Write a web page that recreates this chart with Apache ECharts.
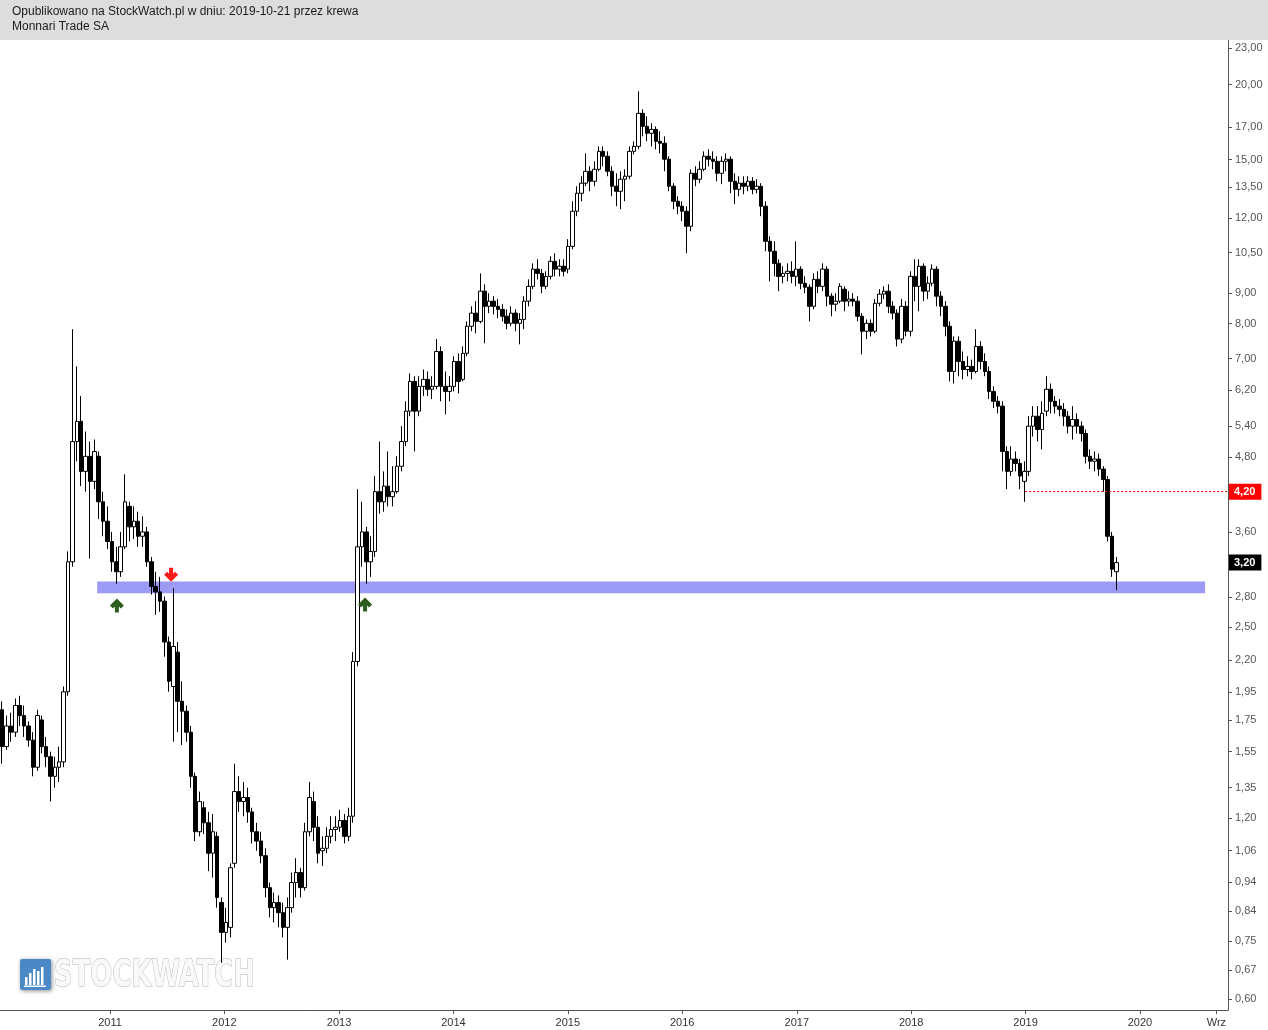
<!DOCTYPE html>
<html><head><meta charset="utf-8">
<script src="https://cdn.jsdelivr.net/npm/echarts@6/dist/echarts.min.js"></script>
<style>html,body{margin:0;padding:0;background:#fff}#c{width:1268px;height:1030px}</style>
</head><body><div id="c"></div>
<script>
// ---- Data (bi-weekly candles, Monnari Trade SA) ----
const startDate = Date.UTC(2010, 0, 22);
const stepDays = 14;
const opens = [1.82,1.58,1.71,1.67,1.85,1.78,1.71,1.62,1.46,1.75,
1.58,1.52,1.41,1.46,1.49,1.95,3.21,5.09,5.50,4.54,
4.81,4.37,4.81,4.04,3.75,3.47,3.21,3.09,3.40,3.97,
3.67,3.75,3.54,3.60,3.21,2.92,2.86,2.76,2.36,1.99,
2.27,1.88,1.81,1.67,1.41,1.14,1.25,1.18,1.05,1.12,
0.869,0.775,0.790,1.01,1.33,1.28,1.30,1.23,1.14,1.10,
1.04,0.920,0.852,0.869,0.836,0.790,0.852,0.938,0.975,0.920,
1.14,1.28,1.16,1.06,1.07,1.12,1.15,1.16,1.19,1.12,
1.21,2.19,3.40,3.60,3.21,3.34,4.20,4.04,4.29,4.12,
4.20,4.63,5.09,5.72,6.41,5.72,6.29,6.46,6.22,6.29,
7.19,6.29,6.17,6.29,6.92,6.46,7.14,7.92,8.33,8.07,
9.06,8.55,8.72,8.55,8.45,8.23,8.01,8.33,8.01,8.13,
8.72,9.23,9.86,9.70,9.23,9.59,10.16,9.86,9.97,9.86,
10.76,12.31,13.19,13.71,14.35,13.81,14.46,15.49,15.20,14.35,
13.55,13.29,13.92,14.08,15.49,15.79,17.92,17.05,16.60,16.85,
16.10,15.98,15.03,13.55,12.79,12.55,12.31,11.62,14.24,13.92,
14.46,15.20,15.03,14.91,14.24,14.91,15.03,13.81,13.39,13.71,
13.55,13.81,13.39,13.55,12.55,10.97,10.56,10.08,9.59,9.70,
9.78,9.59,9.86,9.34,9.20,8.55,9.48,9.23,9.86,8.89,
8.62,8.72,9.13,8.72,8.79,8.72,8.23,7.77,8.01,7.77,
8.65,8.96,9.06,8.55,8.33,7.54,8.55,7.77,9.59,9.23,
9.97,9.06,9.34,9.86,8.89,8.55,7.92,6.66,7.48,6.92,
6.71,6.79,6.66,7.33,6.92,6.66,6.17,5.94,5.83,4.90,
4.54,4.76,4.68,4.37,4.54,5.40,5.61,5.33,5.72,6.22,
5.94,5.83,5.76,5.61,5.40,5.54,5.40,5.25,4.81,4.72,
4.76,4.58,4.40,3.54,3.09];
const closes = [1.58,1.71,1.67,1.85,1.78,1.71,1.62,1.46,1.78,1.58,
1.52,1.41,1.46,1.49,1.95,3.21,5.09,5.50,4.54,4.81,
4.37,4.90,4.04,3.75,3.47,3.21,3.09,3.40,4.04,3.67,
3.75,3.54,3.60,3.21,2.92,2.86,2.76,2.36,2.03,2.32,
1.88,1.81,1.67,1.41,1.14,1.28,1.18,1.05,1.14,0.886,
0.775,0.805,0.993,1.33,1.28,1.30,1.23,1.14,1.10,1.04,
0.920,0.852,0.869,0.836,0.790,0.852,0.938,0.975,0.920,1.14,
1.30,1.16,1.05,1.07,1.12,1.15,1.16,1.19,1.12,1.21,
2.19,3.40,3.60,3.21,3.34,4.20,4.04,4.29,4.12,4.20,
4.63,5.09,5.72,6.41,5.72,6.29,6.46,6.22,6.29,7.19,
6.29,6.17,6.29,6.92,6.41,7.14,7.92,8.33,8.07,9.06,
8.55,8.72,8.55,8.45,8.23,8.01,8.33,8.01,8.13,8.72,
9.23,9.86,9.70,9.23,9.59,10.16,9.86,9.97,9.78,10.76,
12.31,13.19,13.71,14.35,13.81,14.46,15.49,15.20,14.35,13.55,
13.29,13.92,14.08,15.49,15.79,17.92,17.05,16.60,16.85,16.10,
15.98,15.03,13.55,12.79,12.55,12.31,11.62,14.24,13.92,14.46,
15.20,15.03,14.91,14.24,14.91,15.03,13.81,13.39,13.71,13.55,
13.81,13.39,13.55,12.55,10.97,10.56,10.08,9.59,9.70,9.78,
9.59,9.86,9.34,9.20,8.55,9.48,9.23,9.86,8.89,8.62,
8.72,9.23,8.72,8.79,8.72,8.23,7.77,8.01,7.77,8.65,
8.96,9.06,8.55,8.33,7.54,8.55,7.77,9.59,9.23,9.97,
9.06,9.34,9.86,8.89,8.55,7.92,6.66,7.48,6.92,6.71,
6.79,6.66,7.33,6.92,6.66,6.17,5.94,5.83,4.90,4.54,
4.76,4.68,4.46,4.54,5.40,5.61,5.33,5.67,6.22,5.94,
5.83,5.76,5.61,5.40,5.54,5.40,5.25,4.81,4.72,4.76,
4.58,4.40,3.54,3.12,3.20];
const lows = [1.48,1.56,1.61,1.64,1.71,1.64,1.58,1.41,1.44,1.54,
1.46,1.28,1.35,1.38,1.46,1.92,3.15,4.72,4.29,4.20,
3.25,4.24,3.78,3.54,3.37,3.09,2.95,3.03,3.37,3.47,
3.50,3.40,3.40,3.15,2.83,2.62,2.65,2.23,1.95,1.61,
1.67,1.59,1.61,1.35,1.10,1.12,1.13,0.98,0.956,0.852,
0.690,0.745,0.760,0.993,1.23,1.21,1.18,1.09,1.06,1.01,
0.886,0.821,0.805,0.790,0.760,0.698,0.836,0.886,0.886,0.910,
1.12,1.10,1.01,1.00,1.05,1.09,1.10,1.14,1.09,1.10,
1.18,2.15,3.15,2.95,3.03,3.27,3.86,3.89,3.97,3.97,
4.17,4.54,5.00,5.61,4.90,5.61,6.06,6.06,5.99,6.22,
5.94,5.65,5.94,6.17,6.12,6.41,7.06,7.77,7.71,8.01,
7.42,8.33,8.29,8.17,8.07,7.83,7.92,7.77,7.39,7.83,
8.55,9.13,9.48,8.99,9.13,9.48,9.59,9.59,9.59,9.70,
10.64,12.08,12.79,13.55,13.29,13.55,14.35,14.63,14.08,13.04,
12.55,12.41,12.79,13.92,15.31,15.61,16.41,16.10,15.79,15.61,
15.37,14.35,13.29,12.41,12.17,11.85,10.48,11.40,13.55,13.71,
14.35,14.63,14.46,13.81,13.66,14.35,13.19,12.65,13.04,13.14,
13.29,13.14,13.19,12.08,10.56,9.41,9.59,9.06,9.34,9.41,
9.34,9.23,9.13,8.99,8.07,8.45,8.99,9.06,8.55,8.23,
8.39,8.65,8.39,8.55,8.55,8.07,7.11,7.54,7.62,7.71,
8.55,8.79,8.33,8.13,7.33,7.42,7.62,7.62,8.72,8.39,
8.72,8.79,9.23,8.55,8.23,7.62,6.41,6.36,6.54,6.46,
6.54,6.46,6.61,6.71,6.54,5.99,5.79,5.67,4.54,4.24,
4.46,4.54,4.24,4.04,4.46,5.19,5.09,4.94,5.61,5.67,
5.67,5.61,5.40,5.25,5.13,5.25,5.09,4.68,4.58,4.54,
4.46,4.20,3.47,3.03,2.88];
const highs = [1.88,1.78,1.80,1.90,1.92,1.85,1.74,1.67,1.82,1.78,
1.64,1.55,1.52,1.58,1.99,3.34,7.83,6.79,6.06,5.29,
5.09,5.13,4.90,4.20,3.97,3.60,3.40,3.60,4.49,4.04,
3.97,3.89,3.82,3.67,3.27,3.09,3.03,2.81,2.41,2.90,
2.36,2.03,1.85,1.71,1.43,1.33,1.28,1.23,1.22,1.14,
0.886,0.852,1.01,1.48,1.41,1.38,1.35,1.25,1.18,1.14,
1.07,0.938,0.903,0.893,0.869,0.886,0.975,1.03,0.993,1.18,
1.38,1.33,1.21,1.12,1.16,1.21,1.21,1.24,1.22,1.25,
2.27,4.24,4.04,3.67,3.54,4.46,5.09,4.54,4.90,4.63,
4.81,5.40,5.94,6.61,6.54,6.54,6.71,6.66,6.54,7.54,
7.33,6.66,6.54,7.06,7.14,7.33,8.07,8.55,8.72,9.70,
9.30,8.99,8.89,8.79,8.62,8.45,8.55,8.45,8.33,8.89,
9.48,10.08,10.24,9.86,9.78,10.36,10.48,10.24,10.24,11.06,
12.79,13.55,14.08,15.37,14.63,14.91,15.79,15.79,15.49,14.63,
14.24,14.35,14.46,15.79,16.10,19.50,18.20,17.72,17.25,17.05,
16.73,16.41,15.20,13.71,13.04,12.79,12.55,14.46,14.63,14.91,
15.49,15.61,15.49,15.20,15.20,15.37,15.20,14.24,14.08,14.08,
14.08,14.03,13.92,13.71,12.79,11.18,10.97,10.24,9.97,10.08,
10.16,10.97,9.97,9.59,9.30,9.70,9.78,10.08,9.97,8.99,
8.99,9.34,9.23,9.06,8.99,8.89,8.33,8.13,8.13,8.79,
9.13,9.23,9.30,8.72,8.45,8.79,8.72,9.78,10.24,10.24,
10.08,9.59,10.04,9.97,9.06,8.72,8.07,7.62,7.62,7.19,
7.06,6.97,7.83,7.48,7.14,6.79,6.29,6.06,5.94,5.00,
5.00,4.90,4.76,4.72,5.61,5.83,5.83,5.94,6.54,6.36,
6.06,5.99,5.90,5.72,5.83,5.67,5.50,5.33,4.94,4.90,
4.86,4.63,4.46,3.60,3.27];
const yTickValues = [0.60,0.67,0.75,0.84,0.94,1.06,1.20,1.35,1.55,1.75,1.95,2.20,2.50,2.80,3.60,4.80,5.40,6.20,7.00,8.00,9.00,10.50,12.00,13.50,15.00,17.00,20.00,23.00];
const xTickDates = ['2011-01-01','2012-01-01','2013-01-01','2014-01-01','2015-01-01','2016-01-01','2017-01-01','2018-01-01','2019-01-01','2020-01-01','2020-09-01'];
const supportBand = [2.845, 2.975];
const resistanceLevel = 4.20;
const lastPrice = 3.20;
const greenArrows = [['2011-01-23', 2.715], ['2013-03-25', 2.725]];
const redArrows = [['2011-07-15', 3.055]];

// ---- Build ----
const DAY = 86400000;
const toTs = s => Date.parse(s + 'T00:00:00Z');
const candles = opens.map((o, i) => [startDate + i * stepDays * DAY, o, closes[i], lows[i], highs[i]]);
const xMin = toTs('2010-01-15'), xMax = toTs('2020-10-08');
const fmtNum = v => v.toFixed(2).replace('.', ',');
const upArrow = 'path://M7,0 L14,7 L11,10 L9,8 L9,14 L5,14 L5,8 L3,10 L0,7 Z';
const downArrow = 'path://M7,14 L14,7 L11,4 L9,6 L9,0 L5,0 L5,6 L3,4 L0,7 Z';

const mc = document.createElement('canvas').getContext('2d');
const wmFont = 'bold 38px "DejaVu Sans Condensed", "Liberation Sans Narrow", "Liberation Sans", Arial, sans-serif';
mc.font = wmFont;
const wmScale = 201 / mc.measureText('STOCKWATCH').width;

const boxLabel = (txt, bg) => ({show: true, position: 'end', distance: 1, formatter: txt, backgroundColor: bg,
  color: '#fff', fontSize: 11, fontWeight: 'bold', padding: [2, 6, 2, 5], lineHeight: 12});
const redDots = {color: '#e00000', type: [2, 2], width: 1, opacity: 1};

const chart = echarts.init(document.getElementById('c'), null, {renderer: 'canvas'});
chart.setOption({
  animation: false,
  backgroundColor: '#ffffff',
  textStyle: {fontFamily: '"Liberation Sans", Arial, sans-serif'},
  grid: {left: 0, right: 40, top: 40, bottom: 20, containLabel: false, outerBoundsMode: 'none'},
  xAxis: {
    type: 'value', min: xMin, max: xMax, scale: true,
    axisLine: {show: true, lineStyle: {color: '#555', width: 1}},
    axisTick: {show: true, length: 4, customValues: xTickDates.map(toTs), lineStyle: {color: '#555'}},
    axisLabel: {
      customValues: xTickDates.map(toTs), color: '#333', fontSize: 11, margin: 7,
      formatter: v => { const d = new Date(v); return d.getUTCMonth() === 8 ? 'Wrz' : String(d.getUTCFullYear()); }
    },
    splitLine: {show: false}
  },
  yAxis: {
    type: 'log', logBase: 10, position: 'right', min: 0.5755, max: 23.74,
    axisLine: {show: true, lineStyle: {color: '#555', width: 1}},
    axisTick: {show: true, length: 4, customValues: yTickValues, lineStyle: {color: '#555'}},
    axisLabel: {customValues: yTickValues, color: '#555', fontSize: 11, margin: 7, formatter: v => fmtNum(v)},
    splitLine: {show: false}
  },
  graphic: [
    {type: 'rect', left: 0, top: 0, shape: {width: 1268, height: 40}, style: {fill: '#dddddd'}, z: 10},
    {type: 'text', x: 12, y: 6, style: {text: 'Opublikowano na StockWatch.pl w dniu: 2019-10-21 przez krewa', font: '12px "Liberation Sans", Arial, sans-serif', fill: '#1a1a1a'}, z: 11},
    {type: 'text', x: 12, y: 21, style: {text: 'Monnari Trade SA', font: '12px "Liberation Sans", Arial, sans-serif', fill: '#1a1a1a'}, z: 11},
    {type: 'group', x: 20, y: 959, z: 0, children: [
      {type: 'rect', shape: {x: 0, y: 0, width: 31, height: 31, r: 2}, style: {fill: '#4a88c6', shadowBlur: 4, shadowColor: 'rgba(0,0,0,0.45)', shadowOffsetX: 1, shadowOffsetY: 1}},
      {type: 'rect', shape: {x: 5, y: 18, width: 2.5, height: 8}, style: {fill: '#fff'}},
      {type: 'rect', shape: {x: 9, y: 14, width: 2.5, height: 12}, style: {fill: '#fff'}},
      {type: 'rect', shape: {x: 13, y: 10, width: 2.5, height: 16}, style: {fill: '#fff'}},
      {type: 'rect', shape: {x: 17, y: 12, width: 2.5, height: 14}, style: {fill: '#fff'}},
      {type: 'rect', shape: {x: 21, y: 8, width: 2.5, height: 18}, style: {fill: '#fff'}},
      {type: 'rect', shape: {x: 4, y: 26.5, width: 22, height: 1.5}, style: {fill: '#fff'}}
    ]},
    {type: 'text', x: 54, y: 976, scaleX: wmScale, z: 0,
     style: {text: 'STOCKWATCH', font: wmFont, fill: '#f9f9f9', stroke: 'rgba(170,170,170,0.9)', lineWidth: 1,
             verticalAlign: 'middle', shadowBlur: 6, shadowColor: 'rgba(0,0,0,0.6)', shadowOffsetX: 1, shadowOffsetY: 1}}
  ],
  series: [{
    type: 'candlestick',
    barWidth: 4,
    data: candles,
    itemStyle: {color: '#ffffff', color0: '#000000', borderColor: '#000000', borderColor0: '#000000', borderWidth: 1},
    markArea: {
      silent: true,
      itemStyle: {color: '#9b9bf6', opacity: 1},
      data: [[{coord: [toTs('2010-11-21'), supportBand[1]]}, {coord: [toTs('2020-07-27'), supportBand[0]]}]]
    },
    markLine: {
      silent: true, symbol: ['none', 'none'],
      data: [
        [{coord: [toTs('2018-12-31'), resistanceLevel], lineStyle: redDots,
          label: boxLabel(fmtNum(resistanceLevel), '#ff0000')},
         {coord: [xMax, resistanceLevel], lineStyle: redDots}]
      ]
    },
    markPoint: {
      silent: true, label: {show: false},
      data: greenArrows.map(a => ({coord: [toTs(a[0]), a[1]], symbol: upArrow, symbolSize: [14, 14], itemStyle: {color: '#2e5e1e'}}))
        .concat(redArrows.map(a => ({coord: [toTs(a[0]), a[1]], symbol: downArrow, symbolSize: [14, 14], itemStyle: {color: '#ff1a1a'}})))
    }
  }, {
    type: 'line', data: [], silent: true,
    markLine: {
      silent: true, symbol: ['none', 'none'],
      data: [{yAxis: lastPrice, lineStyle: {color: 'rgba(0,0,0,0)', width: 1}, label: boxLabel(fmtNum(lastPrice), '#000000')}]
    }
  }]
});
</script></body></html>
